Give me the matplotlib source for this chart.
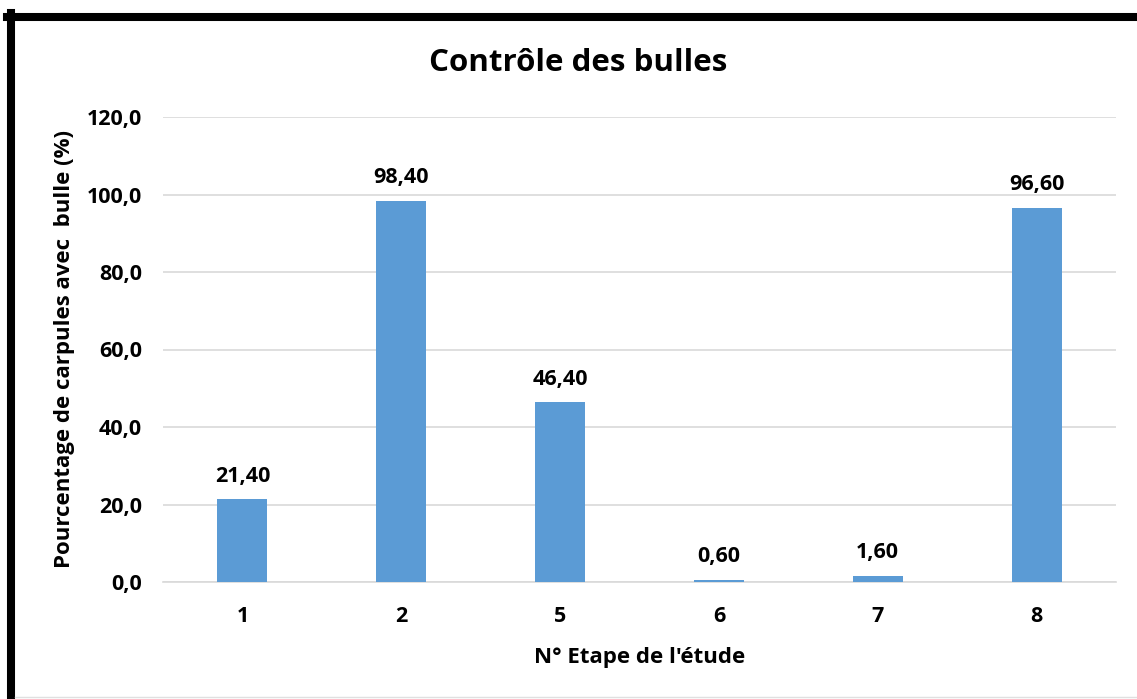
import matplotlib.pyplot as plt
from matplotlib.lines import Line2D

# données
etapes = ["1", "2", "5", "6", "7", "8"]
pourcentages = [21.40, 98.40, 46.40, 0.60, 1.60, 96.60]
yticks = [0, 20, 40, 60, 80, 100, 120]

plt.rcParams['font.family'] = ['Open Sans', 'DejaVu Sans']
plt.rcParams['font.weight'] = 'bold'

fig = plt.figure(figsize=(11.37, 6.99), dpi=100)
W, H = 1137, 699
ax = fig.add_axes([163 / W, 1 - 582 / H, (1116 - 163) / W, (582 - 117) / H])

x = range(len(etapes))
bars = ax.bar(x, pourcentages, width=0.315, color='#5b9bd5', zorder=3)

for b, v in zip(bars, pourcentages):
    ax.annotate(f"{v:.2f}".replace('.', ','), (b.get_x() + b.get_width() / 2, v),
                xytext=(0, 9), textcoords='offset points', ha='center', va='bottom',
                fontsize=15.5, fontweight='bold')

ax.set_xlim(-0.5, len(etapes) - 0.5)
ax.set_ylim(0, 120)
ax.set_yticks(yticks)
ax.set_yticklabels([f"{t:.1f}".replace('.', ',') for t in yticks])
ax.set_xticks(list(x))
ax.set_xticklabels(etapes)
ax.tick_params(axis='both', length=0, labelsize=15.5)
ax.tick_params(axis='y', pad=15)
ax.tick_params(axis='x', pad=17)
for lab in ax.get_xticklabels() + ax.get_yticklabels():
    lab.set_fontweight('bold')

ax.grid(axis='y', color='#d9d9d9', linewidth=1.2, zorder=0)
for s in ['top', 'right', 'left']:
    ax.spines[s].set_visible(False)
ax.spines['bottom'].set_color('#d9d9d9')
ax.spines['bottom'].set_linewidth(1.2)

ax.set_xlabel("N° Etape de l'étude", fontsize=16, fontweight='bold', labelpad=15)
ax.set_ylabel("Pourcentage de carpules avec  bulle (%)", fontsize=16, fontweight='bold')
ax.yaxis.set_label_coords(65 / W, 0.5, transform=fig.transFigure)
ax.yaxis.label.set_va('center')
fig.text(578 / W, 1 - 63 / H, "Contrôle des bulles", ha='center', va='center',
         fontsize=22.5, fontweight='bold')

# cadre
fig.add_artist(Line2D([7 / W, 1], [1 - 17 / H, 1 - 17 / H], color='black', linewidth=5.8,
                      transform=fig.transFigure))
fig.add_artist(Line2D([11 / W, 11 / W], [1 - 13 / H, 0], color='black', linewidth=5.8,
                      transform=fig.transFigure))
fig.add_artist(Line2D([15 / W, 1], [1 - 697 / H, 1 - 697 / H], color='#e0e0e0', linewidth=1,
                      transform=fig.transFigure))

fig.savefig("out.png", dpi=100)
